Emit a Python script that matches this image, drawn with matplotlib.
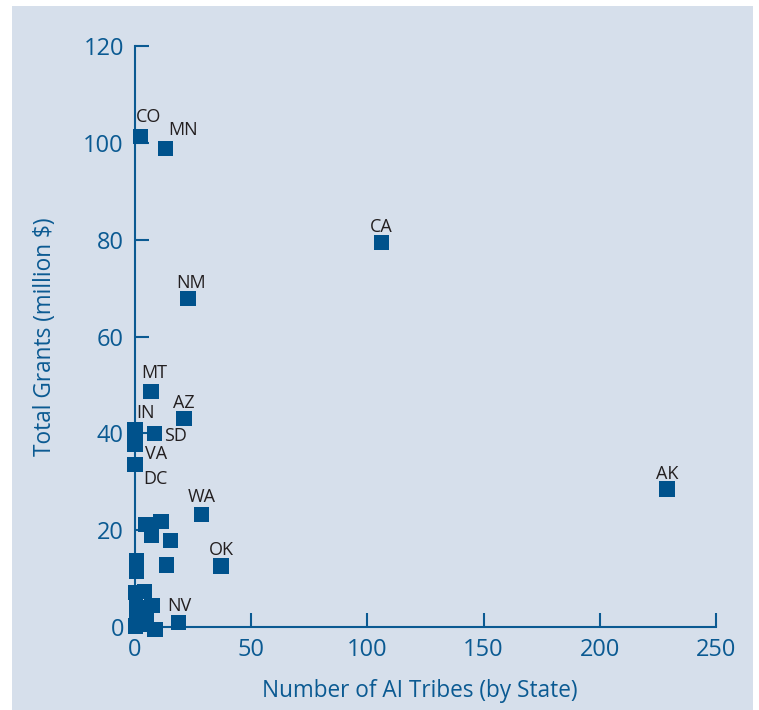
import numpy as np
import matplotlib.pyplot as plt
from matplotlib.patches import Rectangle

# Labeled states: (tribes, grants in million $)
states = ['CO', 'MN', 'CA', 'NM', 'MT', 'AZ', 'IN', 'SD', 'VA', 'DC', 'AK', 'WA', 'OK', 'NV']
tribes = [2.2, 13.3, 105.9, 22.8, 6.9, 21.1, 0.0, 8.2, 0.0, 0.0, 228.9, 28.8, 37.0, 18.9]
grants = [101.4, 98.8, 79.5, 67.8, 48.6, 43.0, 40.7, 39.9, 37.6, 33.5, 28.5, 23.3, 12.6, 1.0]

# the unlabeled ones down near the origin
other_tribes = [4.7, 11.2, 7.2, 15.1, 0.7, 0.7, 13.6, 0.4, 3.9, 7.3, 0.5, 0.5, 2.5, 5.0, 8.6, 0.3]
other_grants = [21.1, 21.8, 18.9, 17.8, 13.8, 11.4, 12.8, 7.2, 7.4, 4.5, 4.0, 1.5, 0.6, 1.5, -0.6, 0.2]

# label offsets (pixels) from each point
label_off = {'CO': (8, 19), 'MN': (17, 19), 'CA': (0, 15), 'NM': (3, 16), 'MT': (3, 19),
             'AZ': (0, 16), 'IN': (11, 17), 'SD': (21, -2), 'VA': (21, -9), 'DC': (20, -14),
             'AK': (0, 15), 'WA': (0, 17), 'OK': (0, 16), 'NV': (0, 16)}

blue = '#0b5a92'
mark = '#00528c'
bg = '#d6dfeb'

plt.rcParams['font.family'] = ['Open Sans', 'DejaVu Sans']

fig = plt.figure(figsize=(7.59, 7.10), dpi=100, facecolor='white')
fig.patches.append(Rectangle((12 / 759, 0), 741 / 759, 704 / 710, transform=fig.transFigure,
                             facecolor=bg, edgecolor='none', zorder=-10))
ax = fig.add_axes([135 / 759, 83 / 710, 581 / 759, 581 / 710])
ax.set_facecolor('none')

ax.scatter(other_tribes, other_grants, marker='s', s=118, color=mark, edgecolor='none',
           clip_on=False, zorder=3)
ax.scatter(tribes, grants, marker='s', s=118, color=mark, edgecolor='none',
           clip_on=False, zorder=3)

for st, x, y in zip(states, tribes, grants):
    dx, dy = label_off[st]
    ax.annotate(st, (x, y), xytext=(dx, dy), textcoords='offset pixels',
                ha='center', va='center', fontsize=13, color='#231f20', zorder=4)

ax.set_xlim(0, 250)
ax.set_ylim(0, 120)
ax.set_xticks([0, 50, 100, 150, 200, 250])
ax.set_yticks([0, 20, 40, 60, 80, 100, 120])

for s in ['top', 'right']:
    ax.spines[s].set_visible(False)
for s in ['left', 'bottom']:
    ax.spines[s].set_color(blue)
    ax.spines[s].set_linewidth(1.5)

ax.tick_params(direction='in', length=10, width=1.5, color=blue, labelcolor=blue,
               labelsize=17, pad=8)

ax.set_xlabel('Number of AI Tribes (by State)', fontsize=16.3, color=blue)
ax.xaxis.set_label_coords(0.49, -0.09)
ax.set_ylabel('Total Grants (million $)', fontsize=16.3, color=blue, labelpad=19)

fig.savefig('out.png', dpi=100, facecolor=fig.get_facecolor())
